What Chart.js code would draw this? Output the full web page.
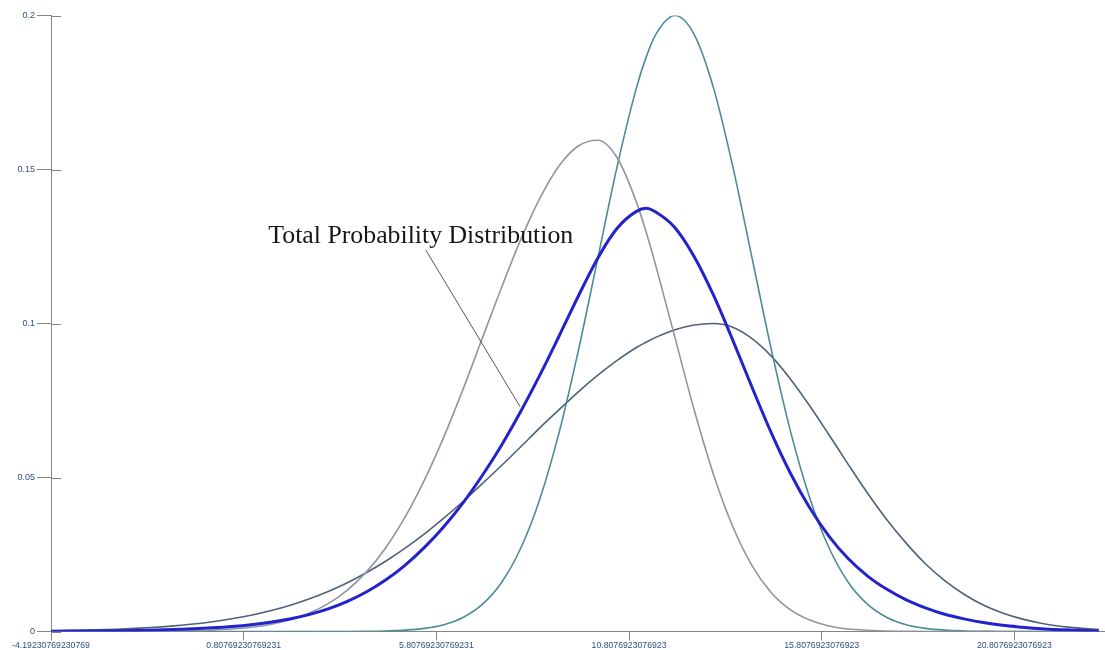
<!DOCTYPE html>
<html>
<head>
<meta charset="utf-8">
<script src="https://cdn.jsdelivr.net/npm/chart.js@4/dist/chart.umd.min.js"></script>
<style>
  html, body { margin: 0; padding: 0; background: #ffffff; }
  canvas { display: block; }
</style>
</head>
<body>
<canvas id="chart" width="1105" height="650"></canvas>
<script>
// ---- data ----
const xValues = [-4.19, -3.5, -3, -2.5, -2, -1.5, -1, -0.5,
  0, 0.5, 1, 1.5, 2, 2.5, 3, 3.5, 4, 4.5, 5, 5.5, 6, 6.5, 7, 7.5, 8, 8.5, 9, 9.5,
  10, 10.5, 11, 11.25, 11.5, 12, 12.5, 13, 13.5, 14, 14.5, 15, 15.5, 16, 16.5, 17, 17.5,
  18, 18.5, 19, 19.5, 20, 20.5, 21, 21.5, 22, 22.5, 23];

const totalValues = [0.00008, 0.00013, 0.00018, 0.00025, 0.00035, 0.00048, 0.00065, 0.00089,
  0.00121, 0.00164, 0.00222, 0.00301, 0.00406, 0.00548, 0.00734, 0.00977, 0.01289, 0.01679,
  0.02158, 0.02731, 0.03404, 0.04179, 0.05066, 0.0605, 0.0715, 0.0834, 0.0961, 0.1091,
  0.1213, 0.1309, 0.1364, 0.1374, 0.1362, 0.1311, 0.1217, 0.1092, 0.0946, 0.0793, 0.0645, 0.0513,
  0.0401, 0.0309, 0.0236, 0.0180, 0.0137, 0.0103, 0.0077, 0.0056, 0.0041, 0.0029, 0.0020,
  0.0014, 0.0009, 0.0006, 0.0004, 0.0002];

const grayValues = [0, 0, 0, 0.000016, 0.000033, 0.000066, 0.000128, 0.000242,
  0.000443, 0.00079, 0.00136, 0.00229, 0.00372, 0.00589, 0.00903, 0.01346, 0.01945, 0.0273,
  0.0372, 0.0492, 0.0631, 0.0786, 0.0952, 0.1117, 0.1273, 0.1408, 0.1513, 0.1577,
  0.1595, 0.1538, 0.1394, 0.1298, 0.1189, 0.0954, 0.0719, 0.0510, 0.0341, 0.0214, 0.0126, 0.0070,
  0.0037, 0.0018, 0.0008, 0.0004, 0.00015, 0.00006, 0, 0, 0, 0, 0,
  0, 0, 0, 0, 0];

const tealValues = [0, 0, 0, 0, 0, 0, 0, 0,
  0, 0, 0, 0, 0, 0, 0, 0.00002, 0.000067, 0.00018,
  0.00044, 0.00102, 0.00222, 0.00456, 0.00879, 0.0159, 0.0271, 0.0433, 0.0649, 0.0916,
  0.1213, 0.1510, 0.1765, 0.1864, 0.1938, 0.2, 0.1938, 0.1765, 0.1510, 0.1213, 0.0916, 0.0649,
  0.0433, 0.0271, 0.0159, 0.00879, 0.00456, 0.00222, 0.00102, 0.00044, 0.00018, 0.000067, 0,
  0, 0, 0, 0, 0];

const slateValues = [0.00024, 0.00039, 0.00054, 0.00074, 0.00101, 0.00137, 0.00183, 0.00243,
  0.00318, 0.00412, 0.00529, 0.00673, 0.00846, 0.01054, 0.0130, 0.01585, 0.01915, 0.0229,
  0.0271, 0.0317, 0.0368, 0.0422, 0.0480, 0.0539, 0.0600, 0.0662, 0.0721, 0.0779,
  0.0832, 0.0880, 0.0922, 0.0939, 0.0955, 0.0980, 0.0995, 0.1000, 0.0988, 0.0951, 0.0894, 0.0819,
  0.0732, 0.0638, 0.0542, 0.0449, 0.0363, 0.0287, 0.0220, 0.0165, 0.0121, 0.0086, 0.0060,
  0.0041, 0.0027, 0.0017, 0.0011, 0.0007];

const xTickValues = [-4.19230769230769, 0.80769230769231, 5.80769230769231,
  10.8076923076923, 15.8076923076923, 20.8076923076923];
const xTickLabels = ['-4.19230769230769', '0.80769230769231', '5.80769230769231',
  '10.8076923076923', '15.8076923076923', '20.8076923076923'];
const yTickValues = [0, 0.05, 0.1, 0.15, 0.2];
const yTickLabels = ['0', '0.05', '0.1', '0.15', '0.2'];

const annotationText = 'Total Probability Distribution';
const annotationTextAt = [1.447, 0.1260];
const annotationLineFrom = [5.532, 0.1239];
const annotationLineTo = [7.98, 0.0730];

// ---- chart ----
const toPoints = (vals) => xValues.map((x, i) => ({ x: x, y: vals[i] }));

const axisColor = '#858585';
const labelColor = '#2f4e86';

const innerTicks = {
  id: 'innerTicks',
  afterDraw(chart) {
    const ctx = chart.ctx, ys = chart.scales.y, area = chart.chartArea;
    ctx.save();
    ctx.strokeStyle = axisColor;
    ctx.lineWidth = 1;
    ys.ticks.forEach(t => {
      const py = Math.round(ys.getPixelForValue(t.value)) + 0.5;
      ctx.beginPath();
      ctx.moveTo(area.left, py);
      ctx.lineTo(area.left + 10, py);
      ctx.stroke();
    });
    ctx.restore();
  }
};

const annotation = {
  id: 'annotation',
  afterDraw(chart) {
    const ctx = chart.ctx, xs = chart.scales.x, ys = chart.scales.y;
    ctx.save();
    ctx.strokeStyle = '#555555';
    ctx.lineWidth = 1;
    ctx.beginPath();
    ctx.moveTo(xs.getPixelForValue(annotationLineFrom[0]), ys.getPixelForValue(annotationLineFrom[1]));
    ctx.lineTo(xs.getPixelForValue(annotationLineTo[0]), ys.getPixelForValue(annotationLineTo[1]));
    ctx.stroke();
    ctx.fillStyle = '#161616';
    ctx.font = '25.8px "Liberation Serif", "Times New Roman", serif';
    ctx.textBaseline = 'alphabetic';
    ctx.textAlign = 'left';
    ctx.fillText(annotationText, xs.getPixelForValue(annotationTextAt[0]), ys.getPixelForValue(annotationTextAt[1]));
    ctx.restore();
  }
};

const baseLine = { pointRadius: 0, pointHoverRadius: 0, fill: false, cubicInterpolationMode: 'monotone' };

new Chart(document.getElementById('chart'), {
  type: 'line',
  data: {
    datasets: [
      Object.assign({ label: 'Total', data: toPoints(totalValues), borderColor: '#2323cc', borderWidth: 3 }, baseLine),
      Object.assign({ label: 'A', data: toPoints(grayValues), borderColor: '#8f969f', borderWidth: 1.6 }, baseLine),
      Object.assign({ label: 'B', data: toPoints(tealValues), borderColor: '#4a8c98', borderWidth: 1.6 }, baseLine),
      Object.assign({ label: 'C', data: toPoints(slateValues), borderColor: '#4f6279', borderWidth: 1.6 }, baseLine)
    ]
  },
  options: {
    responsive: false,
    animation: false,
    events: [],
    layout: { padding: { top: 15.5, right: 0, left: 0, bottom: 0 } },
    plugins: { legend: { display: false }, tooltip: { enabled: false } },
    scales: {
      x: {
        type: 'linear',
        min: xTickValues[0],
        max: 23.16,
        afterBuildTicks: (scale) => { scale.ticks = xTickValues.map(v => ({ value: v })); },
        afterFit: (scale) => { scale.height = 18.5; },
        grid: { display: true, drawOnChartArea: false, drawTicks: true, tickLength: 9, color: axisColor },
        border: { display: true, color: axisColor, width: 1 },
        ticks: {
          autoSkip: false, maxRotation: 0, minRotation: 0, padding: 0,
          color: labelColor,
          font: { family: '"Liberation Sans", Arial, sans-serif', size: 8.7 },
          callback: (value, index) => xTickLabels[index]
        }
      },
      y: {
        min: 0,
        max: 0.2,
        afterBuildTicks: (scale) => { scale.ticks = yTickValues.map(v => ({ value: v })); },
        afterFit: (scale) => { scale.width = 51; },
        grid: { display: true, drawOnChartArea: false, drawTicks: true, tickLength: 14, color: axisColor },
        border: { display: true, color: axisColor, width: 1 },
        ticks: {
          padding: 2,
          color: labelColor,
          font: { family: '"Liberation Sans", Arial, sans-serif', size: 9 },
          callback: (value, index) => yTickLabels[index]
        }
      }
    }
  },
  plugins: [innerTicks, annotation]
});
</script>
</body>
</html>
